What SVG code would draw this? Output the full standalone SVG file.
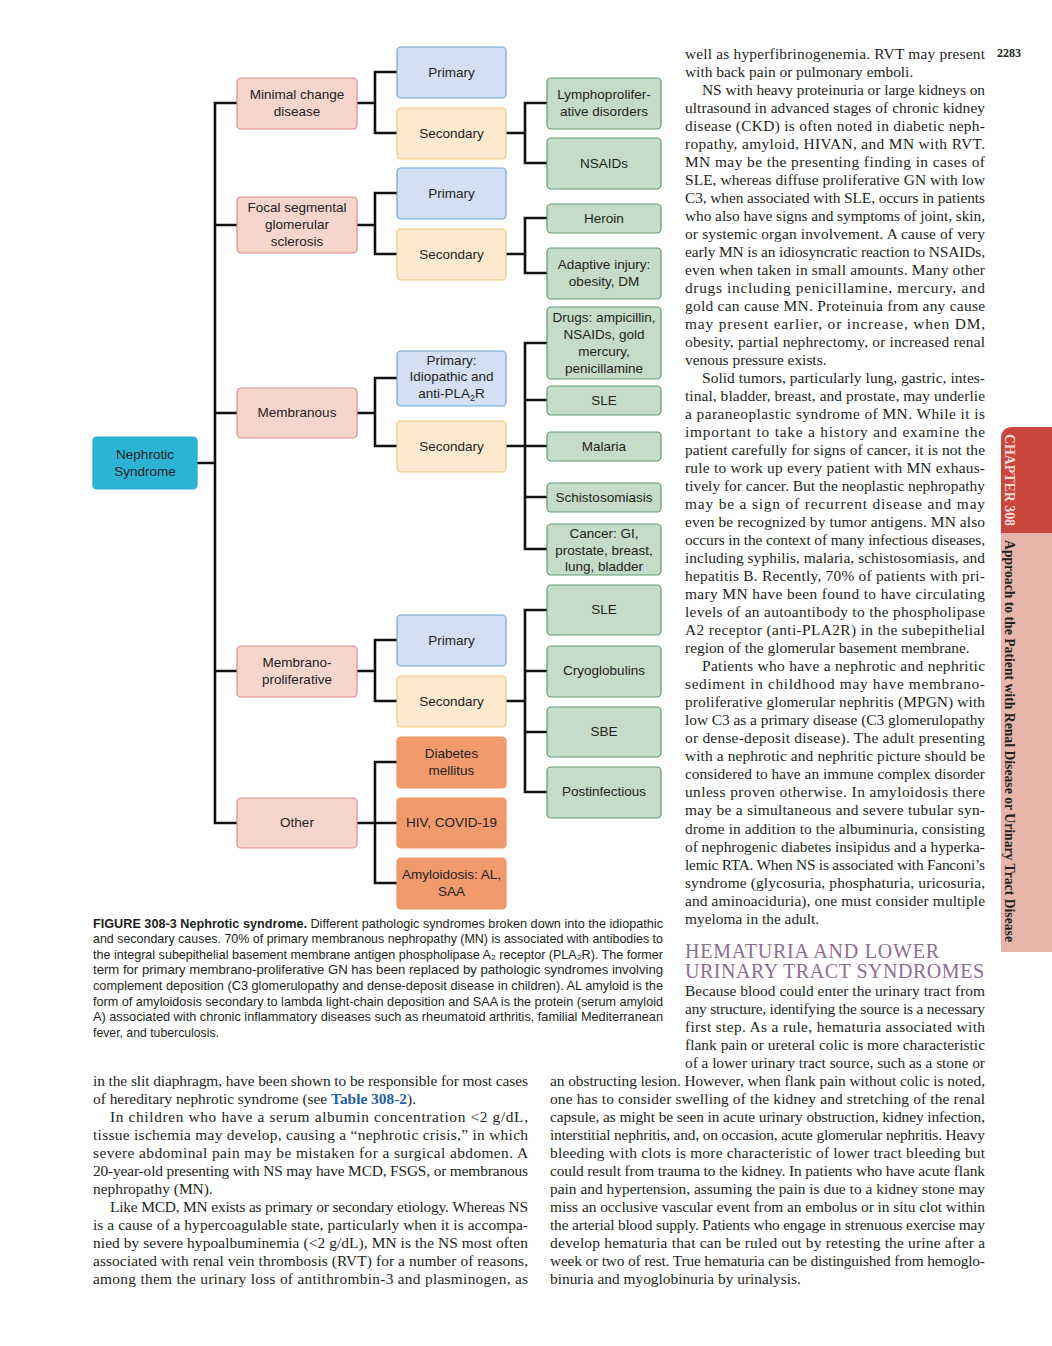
<svg xmlns="http://www.w3.org/2000/svg" width="1052" height="1346" viewBox="0 0 1052 1346">
<style>
.bg{fill:#ffffff}
.n{stroke-width:1.2}
.ns{fill:#2cb4d7;stroke:#27a8cb}
.pk{fill:#f6d5cc;stroke:#de8a8c}
.bl{fill:#d3e0f4;stroke:#68a6da}
.ye{fill:#fce9cf;stroke:#f1c778}
.gr{fill:#c4dcc8;stroke:#5e9e70}
.or{fill:#f19a6d;stroke:#ee9260}
.t{font-family:"Liberation Sans",Arial,sans-serif;font-size:13.5px;fill:#231f20;text-anchor:middle}
.c{fill:none;stroke:#111;stroke-width:2.6;stroke-linecap:square}
.b{font-family:"Liberation Serif","Times New Roman",serif;font-size:15.4px;fill:#231f20}
.cap{font-family:"Liberation Sans",Arial,sans-serif;font-size:13.2px;fill:#231f20}
.hd{font-family:"Liberation Serif","Times New Roman",serif;font-size:20px;fill:#8c6d92;letter-spacing:1px}
</style>
<rect class="bg" x="0" y="0" width="1052" height="1346"/>

<g id="connectors">
<path class="c" d="M197,463H215M215,103V823M215,103H237M215,225H237M215,413H237M215,671H237M215,823H237"/>
<path class="c" d="M357,103H375M375,72V133M375,72H397M375,133H397"/>
<path class="c" d="M357,225H375M375,193V254M375,193H397M375,254H397"/>
<path class="c" d="M357,413H375M375,378V446M375,378H397M375,446H397"/>
<path class="c" d="M357,671H375M375,640V701M375,640H397M375,701H397"/>
<path class="c" d="M357,823H375M375,762V883M375,762H397M375,823H397M375,883H397"/>
<path class="c" d="M506,133H525M525,103V163M525,103H547M525,163H547"/>
<path class="c" d="M506,254H525M525,218V273M525,218H547M525,273H547"/>
<path class="c" d="M506,446H525M525,343V549M525,343H547M525,400H547M525,446H547M525,497H547M525,549H547"/>
<path class="c" d="M506,701H525M525,610V792M525,610H547M525,671H547M525,732H547M525,792H547"/>
</g>

<g id="nephrotic"><rect class="n ns" x="93" y="437" width="104" height="52" rx="4"/><text class="t" x="145" y="458.5">Nephrotic</text><text class="t" x="145" y="475.5">Syndrome</text></g>

<g id="mcd"><rect class="n pk" x="237" y="78" width="120" height="51" rx="4"/><text class="t" x="297" y="98.5">Minimal change</text><text class="t" x="297" y="115.5">disease</text></g>
<g id="fsgs"><rect class="n pk" x="237" y="197" width="120" height="56" rx="4"/><text class="t" x="297" y="211.5">Focal segmental</text><text class="t" x="297" y="228.5">glomerular</text><text class="t" x="297" y="245.5">sclerosis</text></g>
<g id="membranous"><rect class="n pk" x="237" y="388" width="120" height="50" rx="4"/><text class="t" x="297" y="417">Membranous</text></g>
<g id="mpgn"><rect class="n pk" x="237" y="646" width="120" height="51" rx="4"/><text class="t" x="297" y="666.5">Membrano-</text><text class="t" x="297" y="683.5">proliferative</text></g>
<g id="other"><rect class="n pk" x="237" y="798" width="120" height="50" rx="4"/><text class="t" x="297" y="827">Other</text></g>

<g id="mcd-primary"><rect class="n bl" x="397" y="47" width="109" height="51" rx="4"/><text class="t" x="451.5" y="77">Primary</text></g>
<g id="mcd-secondary"><rect class="n ye" x="397" y="108" width="109" height="51" rx="4"/><text class="t" x="451.5" y="138">Secondary</text></g>
<g id="fsgs-primary"><rect class="n bl" x="397" y="168" width="109" height="51" rx="4"/><text class="t" x="451.5" y="198">Primary</text></g>
<g id="fsgs-secondary"><rect class="n ye" x="397" y="229" width="109" height="51" rx="4"/><text class="t" x="451.5" y="259">Secondary</text></g>
<g id="mn-primary"><rect class="n bl" x="397" y="351" width="109" height="55" rx="4"/><text class="t" x="451.5" y="364.5">Primary:</text><text class="t" x="451.5" y="381">Idiopathic and</text><text class="t" x="451.5" y="397.5">anti-PLA<tspan font-size="9" dy="3">2</tspan><tspan dy="-3">R</tspan></text></g>
<g id="mn-secondary"><rect class="n ye" x="397" y="421" width="109" height="51" rx="4"/><text class="t" x="451.5" y="451">Secondary</text></g>
<g id="mpgn-primary"><rect class="n bl" x="397" y="615" width="109" height="51" rx="4"/><text class="t" x="451.5" y="645">Primary</text></g>
<g id="mpgn-secondary"><rect class="n ye" x="397" y="676" width="109" height="51" rx="4"/><text class="t" x="451.5" y="706">Secondary</text></g>
<g id="diabetes"><rect class="n or" x="397" y="737" width="109" height="51" rx="4"/><text class="t" x="451.5" y="757.5">Diabetes</text><text class="t" x="451.5" y="774.5">mellitus</text></g>
<g id="hiv"><rect class="n or" x="397" y="798" width="109" height="50" rx="4"/><text class="t" x="451.5" y="827">HIV, COVID-19</text></g>
<g id="amyloidosis"><rect class="n or" x="397" y="858" width="109" height="51" rx="4"/><text class="t" x="451.5" y="878.5">Amyloidosis: AL,</text><text class="t" x="451.5" y="895.5">SAA</text></g>

<g id="lympho"><rect class="n gr" x="547" y="78" width="114" height="51" rx="4"/><text class="t" x="604" y="98.5">Lymphoprolifer-</text><text class="t" x="604" y="115.5">ative disorders</text></g>
<g id="nsaids"><rect class="n gr" x="547" y="138" width="114" height="51" rx="4"/><text class="t" x="604" y="168">NSAIDs</text></g>
<g id="heroin"><rect class="n gr" x="547" y="204" width="114" height="29" rx="4"/><text class="t" x="604" y="223">Heroin</text></g>
<g id="adaptive"><rect class="n gr" x="547" y="248" width="114" height="51" rx="4"/><text class="t" x="604" y="268.5">Adaptive injury:</text><text class="t" x="604" y="285.5">obesity, DM</text></g>
<g id="drugs"><rect class="n gr" x="547" y="307" width="114" height="72" rx="4"/><text class="t" x="604" y="321.5">Drugs: ampicillin,</text><text class="t" x="604" y="338.5">NSAIDs, gold</text><text class="t" x="604" y="355.5">mercury,</text><text class="t" x="604" y="372.5">penicillamine</text></g>
<g id="sle1"><rect class="n gr" x="547" y="386" width="114" height="29" rx="4"/><text class="t" x="604" y="405">SLE</text></g>
<g id="malaria"><rect class="n gr" x="547" y="432" width="114" height="29" rx="4"/><text class="t" x="604" y="451">Malaria</text></g>
<g id="schisto"><rect class="n gr" x="547" y="483" width="114" height="29" rx="4"/><text class="t" x="604" y="502">Schistosomiasis</text></g>
<g id="cancer"><rect class="n gr" x="547" y="524" width="114" height="51" rx="4"/><text class="t" x="604" y="537.5">Cancer: GI,</text><text class="t" x="604" y="554.5">prostate, breast,</text><text class="t" x="604" y="571">lung, bladder</text></g>
<g id="sle2"><rect class="n gr" x="547" y="585" width="114" height="50" rx="4"/><text class="t" x="604" y="614">SLE</text></g>
<g id="cryo"><rect class="n gr" x="547" y="646" width="114" height="51" rx="4"/><text class="t" x="604" y="675">Cryoglobulins</text></g>
<g id="sbe"><rect class="n gr" x="547" y="707" width="114" height="50" rx="4"/><text class="t" x="604" y="736">SBE</text></g>
<g id="postinf"><rect class="n gr" x="547" y="767" width="114" height="51" rx="4"/><text class="t" x="604" y="796">Postinfectious</text></g>

<g id="caption" class="cap">
<text x="93" y="927.5" textLength="570" lengthAdjust="spacingAndGlyphs"><tspan font-weight="bold">FIGURE 308-3 Nephrotic syndrome.</tspan> Different pathologic syndromes broken down into the idiopathic</text>
<text x="93" y="943.1" textLength="570" lengthAdjust="spacingAndGlyphs">and secondary causes. 70% of primary membranous nephropathy (MN) is associated with antibodies to</text>
<text x="93" y="958.7" textLength="570" lengthAdjust="spacingAndGlyphs">the integral subepithelial basement membrane antigen phospholipase A₂ receptor (PLA₂R). The former</text>
<text x="93" y="974.3" textLength="570" lengthAdjust="spacingAndGlyphs">term for primary membrano-proliferative GN has been replaced by pathologic syndromes involving</text>
<text x="93" y="989.9" textLength="570" lengthAdjust="spacingAndGlyphs">complement deposition (C3 glomerulopathy and dense-deposit disease in children). AL amyloid is the</text>
<text x="93" y="1005.5" textLength="570" lengthAdjust="spacingAndGlyphs">form of amyloidosis secondary to lambda light-chain deposition and SAA is the protein (serum amyloid</text>
<text x="93" y="1021.1" textLength="570" lengthAdjust="spacingAndGlyphs">A) associated with chronic inflammatory diseases such as rheumatoid arthritis, familial Mediterranean</text>
<text x="93" y="1036.7" textLength="126" lengthAdjust="spacingAndGlyphs">fever, and tuberculosis.</text>
</g>

<text x="997" y="57" font-family="'Liberation Serif',serif" font-size="12" font-weight="bold" fill="#231f20">2283</text>

<g id="right-column" class="b">
<text x="685" y="58.5" textLength="300" lengthAdjust="spacing">well as hyperfibrinogenemia. RVT may present</text>
<text x="685" y="76.5">with back pain or pulmonary emboli.</text>
<text x="702" y="94.5" textLength="283" lengthAdjust="spacing">NS with heavy proteinuria or large kidneys on</text>
<text x="685" y="112.6" textLength="300" lengthAdjust="spacing">ultrasound in advanced stages of chronic kidney</text>
<text x="685" y="130.6" textLength="300" lengthAdjust="spacing">disease (CKD) is often noted in diabetic neph-</text>
<text x="685" y="148.6" textLength="300" lengthAdjust="spacing">ropathy, amyloid, HIVAN, and MN with RVT.</text>
<text x="685" y="166.6" textLength="300" lengthAdjust="spacing">MN may be the presenting finding in cases of</text>
<text x="685" y="184.6" textLength="300" lengthAdjust="spacing">SLE, whereas diffuse proliferative GN with low</text>
<text x="685" y="202.6" textLength="300" lengthAdjust="spacing">C3, when associated with SLE, occurs in patients</text>
<text x="685" y="220.6" textLength="300" lengthAdjust="spacing">who also have signs and symptoms of joint, skin,</text>
<text x="685" y="238.7" textLength="300" lengthAdjust="spacing">or systemic organ involvement. A cause of very</text>
<text x="685" y="256.7" textLength="300" lengthAdjust="spacing">early MN is an idiosyncratic reaction to NSAIDs,</text>
<text x="685" y="274.7" textLength="300" lengthAdjust="spacing">even when taken in small amounts. Many other</text>
<text x="685" y="292.7" textLength="300" lengthAdjust="spacing">drugs including penicillamine, mercury, and</text>
<text x="685" y="310.8" textLength="300" lengthAdjust="spacing">gold can cause MN. Proteinuia from any cause</text>
<text x="685" y="328.8" textLength="300" lengthAdjust="spacing">may present earlier, or increase, when DM,</text>
<text x="685" y="346.8" textLength="300" lengthAdjust="spacing">obesity, partial nephrectomy, or increased renal</text>
<text x="685" y="364.8">venous pressure exists.</text>
<text x="702" y="382.9" textLength="283" lengthAdjust="spacing">Solid tumors, particularly lung, gastric, intes-</text>
<text x="685" y="400.9" textLength="300" lengthAdjust="spacing">tinal, bladder, breast, and prostate, may underlie</text>
<text x="685" y="418.9" textLength="300" lengthAdjust="spacing">a paraneoplastic syndrome of MN. While it is</text>
<text x="685" y="436.9" textLength="300" lengthAdjust="spacing">important to take a history and examine the</text>
<text x="685" y="455.0" textLength="300" lengthAdjust="spacing">patient carefully for signs of cancer, it is not the</text>
<text x="685" y="473.0" textLength="300" lengthAdjust="spacing">rule to work up every patient with MN exhaus-</text>
<text x="685" y="491.0" textLength="300" lengthAdjust="spacing">tively for cancer. But the neoplastic nephropathy</text>
<text x="685" y="509.0" textLength="300" lengthAdjust="spacing">may be a sign of recurrent disease and may</text>
<text x="685" y="527.1" textLength="300" lengthAdjust="spacing">even be recognized by tumor antigens. MN also</text>
<text x="685" y="545.1" textLength="300" lengthAdjust="spacing">occurs in the context of many infectious diseases,</text>
<text x="685" y="563.1" textLength="300" lengthAdjust="spacing">including syphilis, malaria, schistosomiasis, and</text>
<text x="685" y="581.1" textLength="300" lengthAdjust="spacing">hepatitis B. Recently, 70% of patients with pri-</text>
<text x="685" y="599.1" textLength="300" lengthAdjust="spacing">mary MN have been found to have circulating</text>
<text x="685" y="617.2" textLength="300" lengthAdjust="spacing">levels of an autoantibody to the phospholipase</text>
<text x="685" y="635.2" textLength="300" lengthAdjust="spacing">A2 receptor (anti-PLA2R) in the subepithelial</text>
<text x="685" y="653.2">region of the glomerular basement membrane.</text>
<text x="702" y="671.2" textLength="283" lengthAdjust="spacing">Patients who have a nephrotic and nephritic</text>
<text x="685" y="689.3" textLength="300" lengthAdjust="spacing">sediment in childhood may have membrano-</text>
<text x="685" y="707.3" textLength="300" lengthAdjust="spacing">proliferative glomerular nephritis (MPGN) with</text>
<text x="685" y="725.3" textLength="300" lengthAdjust="spacing">low C3 as a primary disease (C3 glomerulopathy</text>
<text x="685" y="743.3" textLength="300" lengthAdjust="spacing">or dense-deposit disease). The adult presenting</text>
<text x="685" y="761.4" textLength="300" lengthAdjust="spacing">with a nephrotic and nephritic picture should be</text>
<text x="685" y="779.4" textLength="300" lengthAdjust="spacing">considered to have an immune complex disorder</text>
<text x="685" y="797.4" textLength="300" lengthAdjust="spacing">unless proven otherwise. In amyloidosis there</text>
<text x="685" y="815.4" textLength="300" lengthAdjust="spacing">may be a simultaneous and severe tubular syn-</text>
<text x="685" y="833.5" textLength="300" lengthAdjust="spacing">drome in addition to the albuminuria, consisting</text>
<text x="685" y="851.5" textLength="300" lengthAdjust="spacing">of nephrogenic diabetes insipidus and a hyperka-</text>
<text x="685" y="869.5" textLength="300" lengthAdjust="spacing">lemic RTA. When NS is associated with Fanconi’s</text>
<text x="685" y="887.5" textLength="300" lengthAdjust="spacing">syndrome (glycosuria, phosphaturia, uricosuria,</text>
<text x="685" y="905.5" textLength="300" lengthAdjust="spacing">and aminoaciduria), one must consider multiple</text>
<text x="685" y="923.5">myeloma in the adult.</text>
<text class="hd" x="685" y="958" textLength="255" lengthAdjust="spacing">HEMATURIA AND LOWER</text>
<text class="hd" x="685" y="978" textLength="300" lengthAdjust="spacing">URINARY TRACT SYNDROMES</text>
<text x="685" y="995.5" textLength="300" lengthAdjust="spacing">Because blood could enter the urinary tract from</text>
<text x="685" y="1013.5" textLength="300" lengthAdjust="spacing">any structure, identifying the source is a necessary</text>
<text x="685" y="1031.5" textLength="300" lengthAdjust="spacing">first step. As a rule, hematuria associated with</text>
<text x="685" y="1049.5" textLength="300" lengthAdjust="spacing">flank pain or ureteral colic is more characteristic</text>
<text x="685" y="1067.5" textLength="300" lengthAdjust="spacing">of a lower urinary tract source, such as a stone or</text>
</g>

<g id="bottom-left" class="b">
<text x="93" y="1085.5" textLength="435" lengthAdjust="spacing">in the slit diaphragm, have been shown to be responsible for most cases</text>
<text x="93" y="1103.5">of hereditary nephrotic syndrome (see <tspan fill="#1f5fa8" font-weight="bold">Table 308-2</tspan>).</text>
<text x="110" y="1121.5" textLength="418" lengthAdjust="spacing">In children who have a serum albumin concentration &lt;2 g/dL,</text>
<text x="93" y="1139.5" textLength="435" lengthAdjust="spacing">tissue ischemia may develop, causing a “nephrotic crisis,” in which</text>
<text x="93" y="1157.5" textLength="435" lengthAdjust="spacing">severe abdominal pain may be mistaken for a surgical abdomen. A</text>
<text x="93" y="1175.5" textLength="435" lengthAdjust="spacing">20-year-old presenting with NS may have MCD, FSGS, or membranous</text>
<text x="93" y="1193.5">nephropathy (MN).</text>
<text x="110" y="1211.5" textLength="418" lengthAdjust="spacing">Like MCD, MN exists as primary or secondary etiology. Whereas NS</text>
<text x="93" y="1229.5" textLength="435" lengthAdjust="spacing">is a cause of a hypercoagulable state, particularly when it is accompa-</text>
<text x="93" y="1247.5" textLength="435" lengthAdjust="spacing">nied by severe hypoalbuminemia (&lt;2 g/dL), MN is the NS most often</text>
<text x="93" y="1265.5" textLength="435" lengthAdjust="spacing">associated with renal vein thrombosis (RVT) for a number of reasons,</text>
<text x="93" y="1283.5" textLength="435" lengthAdjust="spacing">among them the urinary loss of antithrombin-3 and plasminogen, as</text>
</g>

<g id="bottom-right" class="b">
<text x="550" y="1085.5" textLength="435" lengthAdjust="spacing">an obstructing lesion. However, when flank pain without colic is noted,</text>
<text x="550" y="1103.5" textLength="435" lengthAdjust="spacing">one has to consider swelling of the kidney and stretching of the renal</text>
<text x="550" y="1121.5" textLength="435" lengthAdjust="spacing">capsule, as might be seen in acute urinary obstruction, kidney infection,</text>
<text x="550" y="1139.5" textLength="435" lengthAdjust="spacing">interstitial nephritis, and, on occasion, acute glomerular nephritis. Heavy</text>
<text x="550" y="1157.5" textLength="435" lengthAdjust="spacing">bleeding with clots is more characteristic of lower tract bleeding but</text>
<text x="550" y="1175.5" textLength="435" lengthAdjust="spacing">could result from trauma to the kidney. In patients who have acute flank</text>
<text x="550" y="1193.5" textLength="435" lengthAdjust="spacing">pain and hypertension, assuming the pain is due to a kidney stone may</text>
<text x="550" y="1211.5" textLength="435" lengthAdjust="spacing">miss an occlusive vascular event from an embolus or in situ clot within</text>
<text x="550" y="1229.5" textLength="435" lengthAdjust="spacing">the arterial blood supply. Patients who engage in strenuous exercise may</text>
<text x="550" y="1247.5" textLength="435" lengthAdjust="spacing">develop hematuria that can be ruled out by retesting the urine after a</text>
<text x="550" y="1265.5" textLength="435" lengthAdjust="spacing">week or two of rest. True hematuria can be distinguished from hemoglo-</text>
<text x="550" y="1283.5">binuria and myoglobinuria by urinalysis.</text>
</g>

<g id="chapter-tab">
<path d="M1052,427H1013Q1001,427 1001,439V533H1052Z" fill="#c8463d"/>
<rect x="1001" y="533" width="51" height="419" fill="#e8b5aa"/>
<text transform="translate(1005,434) rotate(90)" font-family="'Liberation Serif',serif" font-size="14" font-weight="bold" fill="#f6dcd6" textLength="92" lengthAdjust="spacingAndGlyphs">CHAPTER 308</text>
<text transform="translate(1005,540) rotate(90)" font-family="'Liberation Serif',serif" font-size="14" font-weight="bold" fill="#231f20" textLength="402" lengthAdjust="spacingAndGlyphs">Approach to the Patient with Renal Disease or Urinary Tract Disease</text>
</g>
</svg>
